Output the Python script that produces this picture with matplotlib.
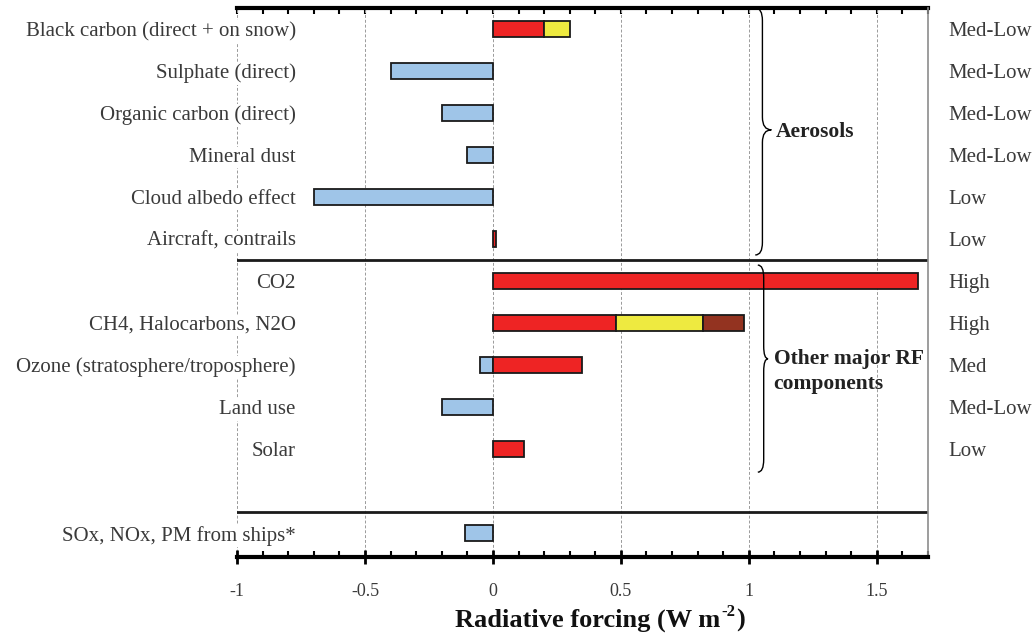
import matplotlib.pyplot as plt
import matplotlib.path as mpath
import matplotlib.patches as mpatches
from matplotlib.ticker import MultipleLocator

plt.rcParams['font.family'] = ['Liberation Serif', 'DejaVu Serif']
plt.rcParams['axes.unicode_minus'] = False

# components, top to bottom (empty row is a gap before the ships row)
names = ['Black carbon (direct + on snow)', 'Sulphate (direct)', 'Organic carbon (direct)',
         'Mineral dust', 'Cloud albedo effect', 'Aircraft, contrails',
         'CO2', 'CH4, Halocarbons, N2O', 'Ozone (stratosphere/troposphere)',
         'Land use', 'Solar', '', 'SOx, NOx, PM from ships*']
confidence = ['Med-Low', 'Med-Low', 'Med-Low', 'Med-Low', 'Low', 'Low',
              'High', 'High', 'Med', 'Med-Low', 'Low', '', '']
cooling = [0, -0.40, -0.20, -0.10, -0.70, 0, 0, 0, -0.05, -0.20, 0, 0, -0.11]
warm_1 = [0.20, 0, 0, 0, 0, 0.012, 1.66, 0.48, 0.35, 0, 0.12, 0, 0]
warm_2 = [0.10, 0, 0, 0, 0, 0, 0, 0.34, 0, 0, 0, 0, 0]
warm_3 = [0, 0, 0, 0, 0, 0, 0, 0.16, 0, 0, 0, 0, 0]
xticks = [-1, -0.5, 0, 0.5, 1, 1.5]
xticklabels = ['-1', '-0.5', '0', '0.5', '1', '1.5']

C_BLUE = '#9fc5e8'
C_RED = '#ee2424'
C_YEL = '#eeea40'
C_BRN = '#933320'
C_TXT = '#3a3a3a'


def brace(ax, a, b, c, yt, ym, yb, r=0.3):
    P = mpath.Path
    verts = [(a, yt), (b, yt), (b, yt + r), (b, ym - r), (b, ym), (c, ym),
             (b, ym), (b, ym + r), (b, yb - r), (b, yb), (a, yb)]
    codes = [P.MOVETO, P.CURVE3, P.CURVE3, P.LINETO, P.CURVE3, P.CURVE3,
             P.CURVE3, P.CURVE3, P.LINETO, P.CURVE3, P.CURVE3]
    ax.add_patch(mpatches.PathPatch(P(verts, codes), fc='none', ec='black',
                                    lw=1.0, clip_on=False, zorder=4))


fig = plt.figure(figsize=(10.32, 6.35), dpi=100)
ax = fig.add_axes([237 / 1032, 1 - 557 / 635, 691 / 1032, 549 / 635])

rows = list(range(len(names)))
h = 0.4
kw = dict(height=h, edgecolor='#1a1a1a', linewidth=1.3, zorder=3)
for i in rows:
    if cooling[i] != 0:
        ax.barh(i, cooling[i], left=0, color=C_BLUE, **kw)
    left = 0
    for vals, col in [(warm_1, C_RED), (warm_2, C_YEL), (warm_3, C_BRN)]:
        if vals[i] != 0:
            ax.barh(i, vals[i], left=left, color=col, **kw)
            left += vals[i]

ax.set_xlim(-1, 1.7)
ax.set_ylim(12.57, -0.5)
ax.set_yticks([])
ax.xaxis.set_minor_locator(MultipleLocator(0.1))
ax.set_xticks(xticks)
ax.set_xticklabels(xticklabels, fontsize=13, color=C_TXT)
ax.tick_params(axis='x', which='major', direction='inout', length=10, width=2, pad=14)
ax.tick_params(axis='x', which='minor', direction='in', length=4, width=1.5)

# top edge: thick line with inward ticks every 0.1
top = ax.secondary_xaxis('top')
top.xaxis.set_major_locator(MultipleLocator(0.1))
top.tick_params(axis='x', direction='in', length=4, width=1.5, labeltop=False)
top.spines['top'].set_linewidth(3)

for x in xticks:
    ax.axvline(x, color='#9a9a9a', lw=0.7, ls=(0, (3, 2)), zorder=1)
for y in [5.5, 11.5]:
    ax.axhline(y, color='#1a1a1a', lw=2, zorder=2)

ax.spines['left'].set_visible(False)
ax.spines['right'].set_color('#8c8c8c')
ax.spines['right'].set_linewidth(1.2)
ax.spines['top'].set_visible(False)
ax.spines['bottom'].set_linewidth(3)

box = dict(facecolor='white', edgecolor='none', pad=1)
for i in rows:
    if names[i]:
        ax.text(-0.77, i, names[i], ha='right', va='center_baseline', fontsize=15,
                color=C_TXT, clip_on=False, bbox=box, zorder=5)
    if confidence[i]:
        ax.text(1.78, i, confidence[i], ha='left', va='center_baseline', fontsize=15,
                color=C_TXT, clip_on=False)

brace(ax, 1.025, 1.053, 1.088, -0.5, 2.4, 5.38)
ax.text(1.104, 2.45, 'Aerosols', ha='left', va='center', fontsize=15.5,
        fontweight='bold', color='#222222')
brace(ax, 1.035, 1.058, 1.075, 5.62, 7.85, 10.55)
ax.text(1.097, 8.15, 'Other major RF\ncomponents', ha='left', va='center',
        fontsize=15.5, fontweight='bold', color='#222222', linespacing=1.3)

# x label with a small "-2" superscript (ascii hyphen, as in the original)
fig.canvas.draw()
r = fig.canvas.get_renderer()
y0 = 8 / 635
t1 = fig.text(455 / 1032, y0, 'Radiative forcing (W m', fontsize=19,
              fontweight='bold', color='#111111', ha='left', va='baseline')
bb = t1.get_window_extent(r)
t2 = fig.text(bb.x1 / 1032 + 0.001, y0 + 11 / 635, '-2', fontsize=12,
              fontweight='bold', color='#111111', ha='left', va='baseline')
bb2 = t2.get_window_extent(r)
fig.text(bb2.x1 / 1032 + 0.001, y0, ')', fontsize=19, fontweight='bold',
         color='#111111', ha='left', va='baseline')

fig.savefig('out.png', dpi=100)
